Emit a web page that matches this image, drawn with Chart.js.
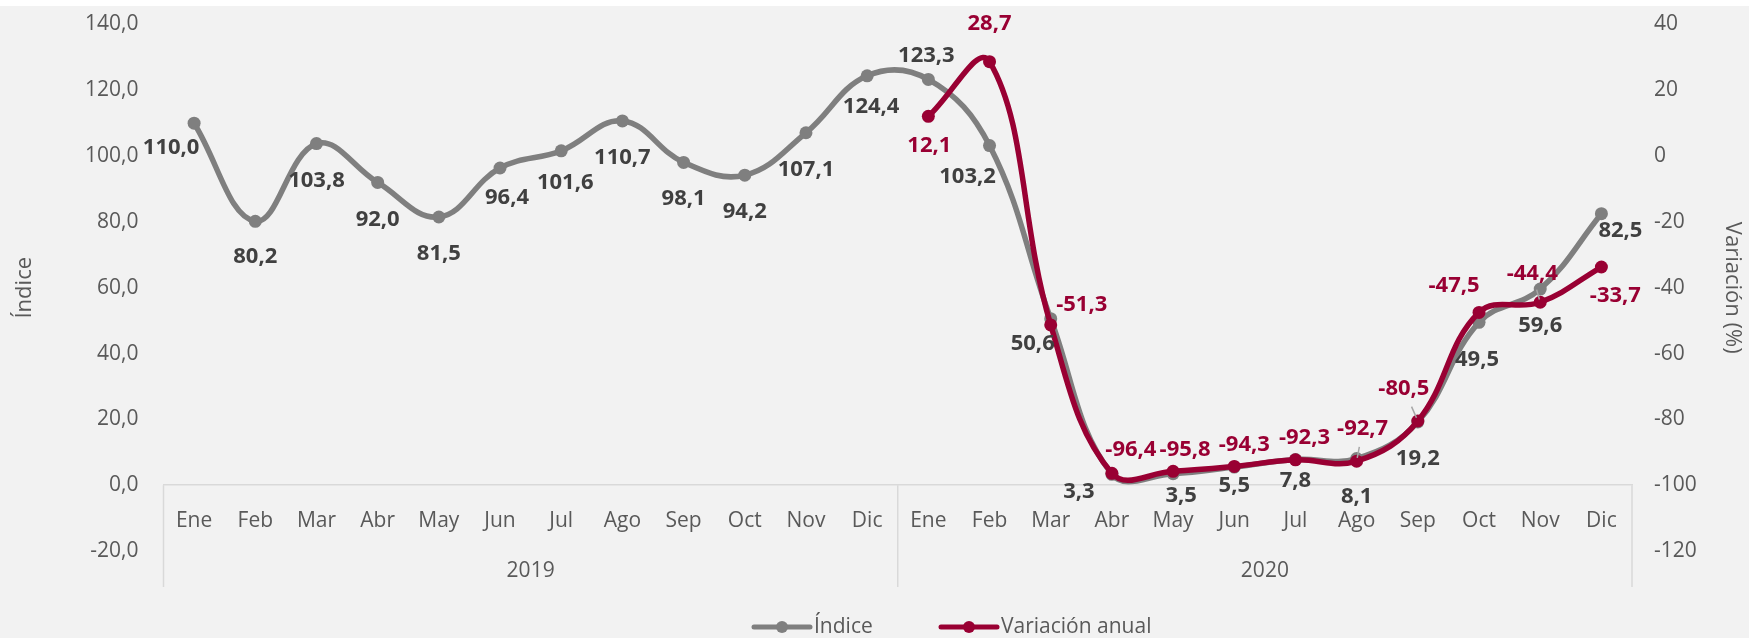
<!DOCTYPE html>
<html>
<head>
<meta charset="utf-8">
<script src="https://cdn.jsdelivr.net/npm/chart.js@4.4.1/dist/chart.umd.min.js"></script>
<style>
  html, body { margin: 0; padding: 0; background: #ffffff; }
  #marco { position: absolute; left: 0; top: 6px; width: 1749px; height: 632px; background: #f2f2f2; }
</style>
</head>
<body>
<div id="marco"><canvas id="grafico" width="1749" height="632"></canvas></div>
<script>
// Datos del gráfico
const meses = ["Ene", "Feb", "Mar", "Abr", "May", "Jun", "Jul", "Ago", "Sep", "Oct", "Nov", "Dic"];
const anios = ["2019", "2020"];
const indice = [110.0, 80.2, 103.8, 92.0, 81.5, 96.4, 101.6, 110.7, 98.1, 94.2, 107.1, 124.4,
                123.3, 103.2, 50.6, 3.3, 3.5, 5.5, 7.8, 8.1, 19.2, 49.5, 59.6, 82.5];
const variacion = [null, null, null, null, null, null, null, null, null, null, null, null,
                   12.1, 28.7, -51.3, -96.4, -95.8, -94.3, -92.3, -92.7, -80.5, -47.5, -44.4, -33.7];
const rangoIndice = [-20, 140];
const rangoVariacion = [-120, 40];

// Desplazamiento de cada etiqueta respecto a su punto (como en la hoja original)
const posIndice = [[-23, 25], [0, 35], [0, 37], [0, 37], [0, 37], [7, 30], [4, 32], [0, 37], [0, 36], [0, 37], [0, 37], [4, 31],
                   [-2, -24], [-22, 31], [-18, 25], [-33, 17], [8, 22], [0, 19], [0, 21], [0, 38], [0, 37], [-2, 37], [0, 37], [19, 17]];
const posVariacion = [null, null, null, null, null, null, null, null, null, null, null, null,
                      [1, 29], [0, -38], [31, -20], [19, -24], [12, -22], [10, -22], [9, -22], [6, -32], [-14, -32], [-25, -27], [-8, -28], [14, 29]];
const conGuia = [19, 20, 22]; // etiquetas con línea guía

const GRIS = "#7f7f7f";
const GRANATE = "#990033";
const FUENTE = '"Open Sans", "Segoe UI", sans-serif';

const etiquetas = anios.flatMap(() => meses);
const fmt = v => v.toFixed(1).replace(".", ",");

// quitar el relleno automático de las escalas para fijar el área del gráfico
const sinRelleno = s => { s.paddingTop = 0; s.paddingBottom = 0; };

const plugEtiquetas = {
    id: "etiquetas",
    afterDatasetsDraw(chart) {
        const ctx = chart.ctx;
        ctx.save();
        ctx.font = "bold 22px " + FUENTE;
        ctx.textAlign = "center";
        ctx.textBaseline = "middle";
        // líneas guía
        const metaV = chart.getDatasetMeta(1);
        ctx.strokeStyle = "#a6a6a6";
        ctx.lineWidth = 1.5;
        conGuia.forEach(i => {
            const p = metaV.data[i];
            const d = posVariacion[i];
            ctx.beginPath();
            ctx.moveTo(p.x + d[0] * 0.45, p.y + d[1] * 0.45);
            ctx.lineTo(p.x + d[0] * 0.1, p.y + d[1] * 0.1);
            ctx.stroke();
        });
        const metaI = chart.getDatasetMeta(0);
        ctx.fillStyle = "#404040";
        indice.forEach((v, i) => {
            const p = metaI.data[i];
            ctx.fillText(fmt(v), p.x + posIndice[i][0], p.y + posIndice[i][1]);
        });
        ctx.fillStyle = GRANATE;
        variacion.forEach((v, i) => {
            if (v === null) return;
            const p = metaV.data[i];
            ctx.fillText(fmt(v), p.x + posVariacion[i][0], p.y + posVariacion[i][1]);
        });
        ctx.restore();
    },
    afterDraw(chart) {
        const ctx = chart.ctx;
        const x = chart.scales.x;
        const y0 = chart.scales.y.getPixelForValue(0);
        const fondoCaja = 581;
        ctx.save();
        // caja del eje de categorías
        ctx.strokeStyle = "#d9d9d9";
        ctx.lineWidth = 1.5;
        [x.left, x.getPixelForValue(11.5), x.right].forEach(px => {
            ctx.beginPath();
            ctx.moveTo(px, y0);
            ctx.lineTo(px, fondoCaja);
            ctx.stroke();
        });
        ctx.font = "21px " + FUENTE;
        ctx.fillStyle = "#595959";
        ctx.textAlign = "center";
        ctx.textBaseline = "middle";
        anios.forEach((a, k) => ctx.fillText(a, x.getPixelForValue(k * 12 + 5.5), 565));

        // leyenda
        const items = [
            { texto: "Índice", color: GRIS, x0: 754 },
            { texto: "Variación anual", color: GRANATE, x0: 941 }
        ];
        const yl = 621;
        ctx.textAlign = "left";
        items.forEach(it => {
            ctx.strokeStyle = it.color;
            ctx.lineWidth = 5;
            ctx.lineCap = "round";
            ctx.beginPath();
            ctx.moveTo(it.x0, yl);
            ctx.lineTo(it.x0 + 56, yl);
            ctx.stroke();
            ctx.fillStyle = it.color;
            ctx.beginPath();
            ctx.arc(it.x0 + 28, yl, 6, 0, Math.PI * 2);
            ctx.fill();
            ctx.fillStyle = "#595959";
            ctx.fillText(it.texto, it.x0 + 60, yl);
        });
        ctx.restore();
    }
};

const ctx = document.getElementById("grafico").getContext("2d");
new Chart(ctx, {
    type: "line",
    data: {
        labels: etiquetas,
        datasets: [
            {
                label: "Índice",
                data: indice,
                yAxisID: "y",
                borderColor: GRIS,
                backgroundColor: GRIS,
                borderWidth: 5.5,
                pointRadius: 6.5,
                pointBorderWidth: 0,
                pointBackgroundColor: GRIS,
                tension: 0.4,
                order: 2
            },
            {
                label: "Variación anual",
                data: variacion,
                yAxisID: "y1",
                borderColor: GRANATE,
                backgroundColor: GRANATE,
                borderWidth: 5.5,
                pointRadius: 6.5,
                pointBorderWidth: 0,
                pointBackgroundColor: GRANATE,
                tension: 0.4,
                order: 1
            }
        ]
    },
    options: {
        responsive: false,
        animation: false,
        layout: { padding: { top: 18.5, bottom: 87, left: 0, right: 0 } },
        plugins: {
            legend: { display: false },
            tooltip: { enabled: false }
        },
        scales: {
            x: {
                position: { y: 0 },
                offset: true,
                grid: { display: false, drawTicks: false },
                border: { display: true, color: "#d9d9d9", width: 1.5 },
                ticks: {
                    autoSkip: false,
                    maxRotation: 0,
                    padding: 23,
                    color: "#595959",
                    font: { family: FUENTE, size: 21 }
                },
                afterFit: sinRelleno
            },
            y: {
                position: "left",
                min: rangoIndice[0],
                max: rangoIndice[1],
                grid: { display: false, drawTicks: false },
                border: { display: false },
                ticks: {
                    stepSize: 20,
                    padding: 25,
                    color: "#595959",
                    font: { family: FUENTE, size: 21 },
                    callback: v => fmt(v)
                },
                title: {
                    display: true,
                    text: "Índice",
                    color: "#595959",
                    font: { family: FUENTE, size: 22 },
                    padding: { top: 12, bottom: 0 }
                },
                afterFit: s => { s.width = 163.5; sinRelleno(s); }
            },
            y1: {
                position: "right",
                min: rangoVariacion[0],
                max: rangoVariacion[1],
                grid: { display: false, drawTicks: false },
                border: { display: false },
                ticks: {
                    stepSize: 20,
                    padding: 22,
                    color: "#595959",
                    font: { family: FUENTE, size: 21 }
                },
                title: {
                    display: true,
                    text: "Variación (%)",
                    color: "#595959",
                    font: { family: FUENTE, size: 22 },
                    padding: { top: 4, bottom: 0 }
                },
                afterFit: s => { s.width = 117; sinRelleno(s); }
            }
        }
    },
    plugins: [plugEtiquetas]
});
</script>
</body>
</html>
